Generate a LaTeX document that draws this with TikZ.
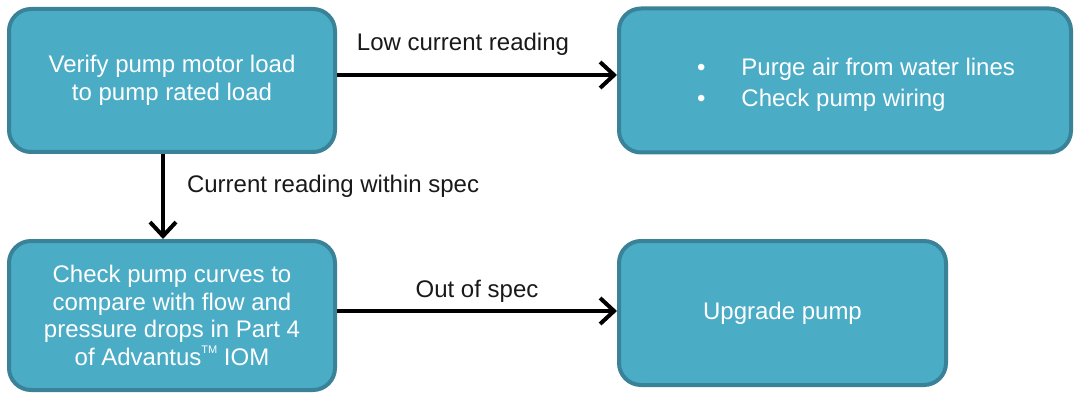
\documentclass[tikz,border=0pt]{standalone}
\usepackage{fontspec}
\setmainfont{Liberation Sans}
\usepackage{xcolor}
\usepackage{tikz}
\usetikzlibrary{arrows.meta, positioning}
\definecolor{stepfill}{HTML}{4BACC6}
\definecolor{stepline}{HTML}{3A8297}
\tikzset{
    myarrow/.style={-{Straight Barb[length=14pt, width=26pt, line width=4pt]}, line width=4pt, black},
    stepbox/.style={draw=stepline, line width=4pt, fill=stepfill, rounded corners=22pt, text=white,
        font=\fontsize{24}{27.5}\selectfont, align=center, inner sep=0pt},
    lbl/.style={font=\fontsize{24}{27.5}\selectfont, text=black!90, inner sep=0pt}
}

\begin{document}
\begin{tikzpicture}[x=1pt, y=1pt]
    \useasboundingbox (0,0) rectangle (1078,-398);
    \node (verify) [stepbox, minimum width=326pt, minimum height=143pt] at (172,-80.5)
        {Verify pump motor load\\to pump rated load};
    \node (purge) [stepbox, minimum width=452pt, minimum height=144pt, right=280pt of verify]
        {\hspace{22pt}\raisebox{-5pt}[\height][\depth]{\begin{tabular}{@{}l@{\hspace{36pt}}l@{}}
         \textbullet & Purge air from water lines\\[3pt]
         \textbullet & Check pump wiring
         \end{tabular}}};
    \node (curves) [stepbox, minimum width=326pt, minimum height=149pt, below=85pt of verify]
        {Check pump curves to\\compare with flow and\\pressure drops in Part 4\\of Advantus\raisebox{0.5em}{\fontsize{11}{11}\selectfont TM} IOM};
    \node (upgrade) [stepbox, minimum width=327pt, minimum height=144pt, right=280pt of curves, yshift=2.5pt]
        {Upgrade pump};
    \draw [myarrow] (verify.east |- 0,-75) -- (purge.west |- 0,-75)
        node [lbl, midway, above=18pt, xshift=-14pt] {Low current reading};
    \draw [myarrow] (verify.south -| 163,0) -- (curves.north -| 163,0)
        node [lbl, midway, right=22pt, yshift=10pt] {Current reading within spec};
    \draw [myarrow] (curves.east |- 0,-311) -- (upgrade.west |- 0,-311)
        node [lbl, midway, above=7pt] {Out of spec};
\end{tikzpicture}
\end{document}
